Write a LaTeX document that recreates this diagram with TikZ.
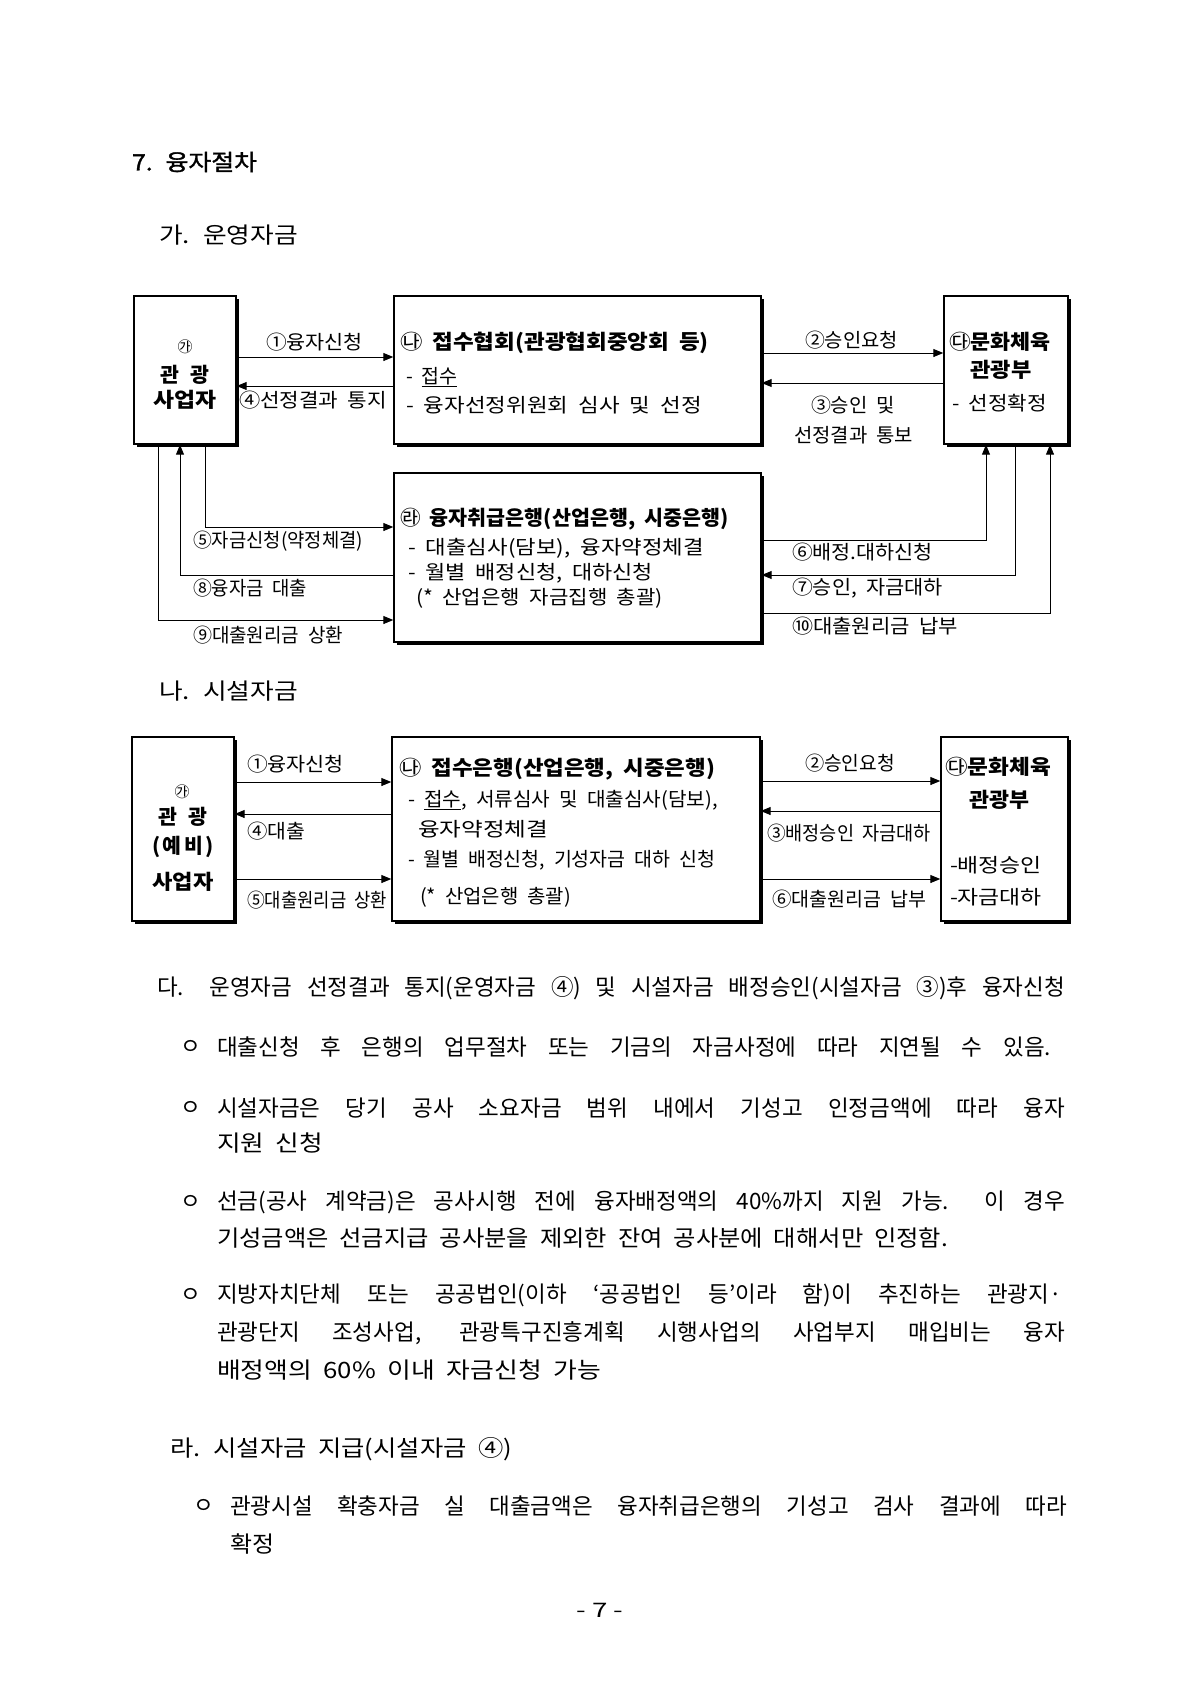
\documentclass[tikz,border=0pt]{standalone}
\usepackage{fontspec}
\setmainfont{Noto Sans CJK KR}
\newfontfamily\hdfam{Noto Sans CJK KR}[FakeBold=1.3]
\usetikzlibrary{arrows.meta,shadows}
\newcommand\spq{\spaceskip=0.45em plus 0.6em minus 0.1em\relax}
\newcommand\hdfont{\hdfam\fontsize{22.5}{26}\selectfont\spq}
\newcommand\bdfont{\fontsize{22.5}{26}\selectfont\spq}
\newcommand\lbfont{\fontsize{19.5}{22}\selectfont\spq}
\newcommand\bxtfont{\fontsize{20.5}{24}\selectfont\bfseries\spq}
\newcommand\bxfont{\fontsize{19.5}{23}\selectfont\spq}
\newcommand\smcfont{\fontsize{15}{18}\selectfont}
\newcommand\fitto[2]{\resizebox{#1}{\height}{#2}}
\newcommand\cir[1]{{\mdseries #1}}
\tikzset{
  box/.style={draw, line width=1.4pt, fill=white, inner sep=0pt,
    drop shadow={shadow xshift=2.6pt, shadow yshift=-2.6pt, fill=black, opacity=1}},
  arr/.style={line width=1pt, -{Triangle[length=10pt,width=8pt]}},
  tx/.style={inner sep=0pt, outer sep=0pt},
  lb/.style={tx, font=\lbfont, anchor=west},
  bt/.style={tx, font=\bxtfont},
  bx/.style={tx, font=\bxfont, anchor=west},
  bd/.style={tx, font=\bdfont, anchor=west},
  hd/.style={tx, font=\hdfont, anchor=west},
}
\begin{document}
\begin{tikzpicture}[x=1pt,y=-1pt]
\fill[white] (0,0) rectangle (1200,1698);
\useasboundingbox (0,0) rectangle (1200,1698);

% headings
\node[hd] (h7) at (132,162) {\fitto{125pt}{7. 융자절차}};
\node[tx, font=\bdfont, anchor=west] (hga) at (159,235) {\fitto{139pt}{가. 운영자금}};

% ---------- diagram 1 ----------
\node[box, minimum width=102pt, minimum height=148pt] (A) at (185,370) {};
\node[box, minimum width=367pt, minimum height=148pt] (B) at (577.5,370) {};
\node[box, minimum width=124pt, minimum height=148pt] (C) at (1006,370) {};
\node[box, minimum width=367pt, minimum height=169pt] (D) at (577.5,557.5) {};

\node[tx, font=\smcfont] (A1) at (185,347) {㉮};
\node[bt] (A2t) at (185,375) {\makebox[49pt][s]{관\hfill 광}};
\node[bt] (A3) at (185,400) {\fitto{63pt}{사업자}};

\node[bt, anchor=west] (B1) at (400,343) {\fitto{309pt}{\cir{㉯} 접수협회(관광협회중앙회 등)}};
\node[bx] (B2t) at (406,377) {- \underline{접수}};
\node[bx] (B3) at (406,405) {\fitto{296pt}{- 융자선정위원회 심사 및 선정}};

\node[bt, anchor=west] (C1) at (949,342) {\fitto{102pt}{\cir{㉰}문화체육}};
\node[bt] (C2t) at (1001,370) {\fitto{61pt}{관광부}};
\node[bx] (C3) at (952,403) {\fitto{95pt}{- 선정확정}};

\node[bt, anchor=west] (D1) at (400,519) {\fitto{329pt}{\cir{㉱} 융자취급은행(산업은행, 시중은행)}};
\node[bx] (D2) at (408,548) {\fitto{296pt}{- 대출심사(담보), 융자약정체결}};
\node[bx] (D3) at (408,573) {\fitto{245pt}{- 월별 배정신청, 대하신청}};
\node[bx] (D4) at (416,598) {\fitto{247pt}{(* 산업은행 자금집행 총괄)}};

\coordinate (y1) at (0,357);
\coordinate (y4) at (0,386);
\coordinate (y2) at (0,353);
\coordinate (y3) at (0,383);
\draw[arr] (A.east |- y1) -- (B.west |- y1);
\draw[arr] (B.west |- y4) -- (A.east |- y4);
\draw[arr] (B.east |- y2) -- (C.west |- y2);
\draw[arr] (C.west |- y3) -- (B.east |- y3);
\node[lb] (l1) at (266,342) {\fitto{97pt}{①융자신청}};
\node[lb] (l4) at (239,400) {\fitto{148pt}{④선정결과 통지}};
\node[lb] (l2) at (805,340) {\fitto{93pt}{②승인요청}};
\node[lb] (l3a) at (811,405) {\fitto{84pt}{③승인 및}};
\node[lb] (l3b) at (794,435) {\fitto{119pt}{선정결과 통보}};

\coordinate (c5) at (205,527);
\coordinate (c8) at (180,575);
\coordinate (c9) at (158,620);
\draw[arr] (A.south -| c5) -- (c5) -- (D.west |- c5);
\draw[arr] (D.west |- c8) -- (c8) -- (c8 |- A.south);
\draw[arr] (A.south -| c9) -- (c9) -- (D.west |- c9);
\node[lb] (l5) at (193,541) {\fitto{170pt}{⑤자금신청(약정체결)}};
\node[lb] (l8) at (193,588) {\fitto{114pt}{⑧융자금 대출}};
\node[lb] (l9) at (193,635) {\fitto{150pt}{⑨대출원리금 상환}};

\coordinate (c6) at (986,540);
\coordinate (c7) at (1015,575);
\coordinate (c10) at (1050,613);
\draw[arr] (D.east |- c6) -- (c6) -- (c6 |- C.south);
\draw[arr] (C.south -| c7) -- (c7) -- (D.east |- c7);
\draw[arr] (D.east |- c10) -- (c10) -- (c10 |- C.south);
\node[lb] (l6) at (792,552) {\fitto{141pt}{⑥배정.대하신청}};
\node[lb] (l7) at (792,588) {\fitto{151pt}{⑦승인, 자금대하}};
\node[lb] (l10) at (792,626) {\fitto{166pt}{⑩대출원리금 납부}};

% ---------- diagram 2 ----------
\node[tx, font=\bdfont, anchor=west] (hna) at (159,691) {\fitto{139pt}{나. 시설자금}};

\node[box, minimum width=102pt, minimum height=184pt] (P) at (183,829) {};
\node[box, minimum width=368pt, minimum height=184pt] (Q) at (576,829) {};
\node[box, minimum width=127pt, minimum height=184pt] (R) at (1004.5,829) {};

\node[tx, font=\smcfont] (P1) at (182,792) {㉮};
\node[bt] (P2) at (183,817) {\makebox[49pt][s]{관\hfill 광}};
\node[bt] (P3) at (183,847) {\makebox[61pt][s]{(\hfill 예\hfill 비\hfill )}};
\node[bt] (P4) at (183,882) {\fitto{61pt}{사업자}};

\node[bt, anchor=west] (Q1) at (399,769) {\fitto{316pt}{\cir{㉯} 접수은행(산업은행, 시중은행)}};
\node[bx] (Q2) at (408,800) {\fitto{310pt}{- \underline{접수}, 서류심사 및 대출심사(담보),}};
\node[bx] (Q3) at (418,829) {\fitto{130pt}{융자약정체결}};
\node[bx] (Q4) at (408,860) {\fitto{307pt}{- 월별 배정신청, 기성자금 대하 신청}};
\node[bx] (Q5) at (420,897) {\fitto{151pt}{(* 산업은행 총괄)}};

\node[bt, anchor=west] (R1) at (945,767) {\fitto{106pt}{\cir{㉰}문화체육}};
\node[bt] (R2) at (999,800) {\fitto{60pt}{관광부}};
\node[bx] (R3) at (950,865) {\fitto{92pt}{-배정승인}};
\node[bx] (R4) at (950,897) {\fitto{92pt}{-자금대하}};

\coordinate (z1) at (0,782);
\coordinate (z4) at (0,814);
\coordinate (z5) at (0,879);
\coordinate (z2) at (0,781);
\coordinate (z3) at (0,811);
\draw[arr] (P.east |- z1) -- (Q.west |- z1);
\draw[arr] (Q.west |- z4) -- (P.east |- z4);
\draw[arr] (P.east |- z5) -- (Q.west |- z5);
\draw[arr] (Q.east |- z2) -- (R.west |- z2);
\draw[arr] (R.west |- z3) -- (Q.east |- z3);
\draw[arr] (Q.east |- z5) -- (R.west |- z5);
\node[lb] (m1) at (247,764) {\fitto{97pt}{①융자신청}};
\node[lb] (m4) at (247,831) {\fitto{58pt}{④대출}};
\node[lb] (m5) at (247,900) {\fitto{140pt}{⑤대출원리금 상환}};
\node[lb] (m2) at (805,763) {\fitto{90pt}{②승인요청}};
\node[lb] (m3) at (767,833) {\fitto{164pt}{③배정승인 자금대하}};
\node[lb] (m6) at (772,899) {\fitto{154pt}{⑥대출원리금 납부}};

% ---------- body text ----------
\node[bd] (t0) at (157,988) {\makebox[908pt][s]{다. 운영자금 선정결과 통지(운영자금 ④) 및 시설자금 배정승인(시설자금 ③)후 융자신청}};

\node[tx, font=\bdfont] (b1) at (191,1047) {ㅇ};
\node[bd] (t1) at (217,1047) {\makebox[834pt][s]{대출신청 후 은행의 업무절차 또는 기금의 자금사정에 따라 지연될 수 있음.}};

\node[tx, font=\bdfont] (b2) at (191,1108) {ㅇ};
\node[bd] (t2a) at (217,1108) {\makebox[848pt][s]{시설자금은 당기 공사 소요자금 범위 내에서 기성고 인정금액에 따라 융자}};
\node[bd] (t2b) at (217,1143) {\fitto{106pt}{지원 신청}};

\node[tx, font=\bdfont] (b3) at (191,1202) {ㅇ};
\node[bd] (t3a) at (217,1202) {\makebox[848pt][s]{선금(공사 계약금)은 공사시행 전에 융자배정액의 40\%까지 지원 가능. 이 경우}};
\node[bd] (t3b) at (217,1238) {\fitto{731pt}{기성금액은 선금지급 공사분을 제외한 잔여 공사분에 대해서만 인정함.}};

\node[tx, font=\bdfont] (b4) at (191,1295) {ㅇ};
\node[bd] (t4a) at (217,1295) {\makebox[845pt][s]{지방자치단체 또는 공공법인(이하 ‘공공법인 등’이라 함)이 추진하는 관광지·}};
\node[bd] (t4b) at (217,1333) {\makebox[848pt][s]{관광단지 조성사업, 관광특구진흥계획 시행사업의 사업부지 매입비는 융자}};
\node[bd] (t4c) at (217,1370) {\fitto{384pt}{배정액의 60\% 이내 자금신청 가능}};

\node[bd] (t5) at (170,1449) {\fitto{342pt}{라. 시설자금 지급(시설자금 ④)}};

\node[tx, font=\bdfont] (b5) at (204,1506) {ㅇ};
\node[bd] (t6a) at (230,1506) {\makebox[837pt][s]{관광시설 확충자금 실 대출금액은 융자취급은행의 기성고 검사 결과에 따라}};
\node[bd] (t6b) at (230,1544) {\fitto{44pt}{확정}};

\node[tx, font=\fontsize{20}{24}\selectfont] (pg) at (600,1610) {\fitto{47pt}{- 7 -}};
\end{tikzpicture}
\end{document}
